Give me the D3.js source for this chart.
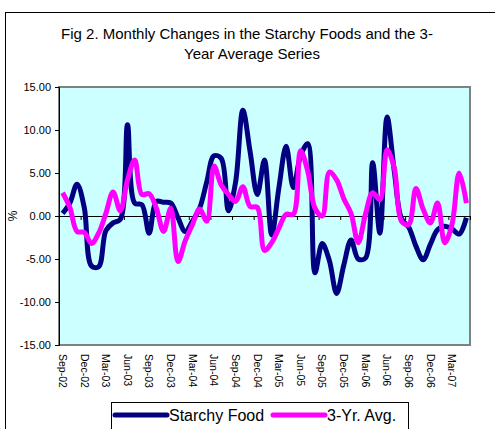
<!DOCTYPE html>
<html>
<head>
<meta charset="utf-8">
<script src="https://cdn.jsdelivr.net/npm/d3@7"></script>
<style>
  body { margin: 0; background: #fff; }
  text { font-family: Arial, "Liberation Sans", sans-serif; }
</style>
</head>
<body>
<script>
// monthly categories Sep-02 .. May-07
var months = ["Sep-02","Oct-02","Nov-02","Dec-02",
  "Jan-03","Feb-03","Mar-03","Apr-03","May-03","Jun-03","Jul-03","Aug-03","Sep-03","Oct-03","Nov-03","Dec-03",
  "Jan-04","Feb-04","Mar-04","Apr-04","May-04","Jun-04","Jul-04","Aug-04","Sep-04","Oct-04","Nov-04","Dec-04",
  "Jan-05","Feb-05","Mar-05","Apr-05","May-05","Jun-05","Jul-05","Aug-05","Sep-05","Oct-05","Nov-05","Dec-05",
  "Jan-06","Feb-06","Mar-06","Apr-06","May-06","Jun-06","Jul-06","Aug-06","Sep-06","Oct-06","Nov-06","Dec-06",
  "Jan-07","Feb-07","Mar-07","Apr-07","May-07"];

var starchy = [0.3, 1.5, 3.7, 1.0,
  -5.8, -5.9, -1.7, -0.8, -0.4, 10.6, 1.5, 1.3, -2.0, 1.7, 1.6, 1.5,
  -0.2, -1.8, -0.6, 0.9, 4.0, 7.0, 6.7, 0.6, 4.0, 12.3, 7.5, 2.5,
  6.5, -2.2, 3.3, 8.1, 3.3, 7.0, 8.4, -6.6, -3.2, -5.2, -9.0, -5.7,
  -2.8, -5.0, -4.9, 6.2, -2.0, 11.5, 5.2, -0.3, -1.3, -3.5, -5.1, -3.3,
  -1.6, -1.2, -1.5, -2.1, -0.2];

var avg3yr = [2.7, 1.0, -1.8, -1.9,
  -3.2, -2.0, 0.3, 2.8, 0.6, 4.2, 6.5, 2.5, 2.6, 0.9, -1.8, 0.9,
  -5.3, -2.9, -1.0, 0.8, -0.6, 5.8, 3.6, 2.5, 1.7, 3.4, 1.1, 1.0,
  -4.0, -3.1, -1.4, 0.2, 0.2, 7.6, 5.2, 0.9, 0.0, 5.1, 4.2, 2.0,
  0.3, -3.1, 0.2, 2.7, 1.9, 7.7, 5.6, -0.6, -1.0, 3.2, 0.8, -0.8,
  1.5, -3.1, -1.0, 5.0, 1.5];

var yTicks = [-15, -10, -5, 0, 5, 10, 15];

var W = 495, H = 429;
var plotL = 59, plotR = 470, plotT = 87, plotB = 345;

var svg = d3.select("body").append("svg")
    .attr("width", W)
    .attr("height", H);

// outer chart border
svg.append("rect")
    .attr("x", 5.5).attr("y", 12.5)
    .attr("width", 600).attr("height", 500)
    .attr("fill", "#fff")
    .attr("stroke", "#000");

// title
svg.append("text")
    .attr("x", 247).attr("y", 38.5)
    .attr("text-anchor", "middle")
    .style("font-size", "15px")
    .text("Fig 2. Monthly Changes in the Starchy Foods and the 3-");
svg.append("text")
    .attr("x", 252).attr("y", 58.5)
    .attr("text-anchor", "middle")
    .style("font-size", "15px")
    .text("Year Average Series");

var x = d3.scaleBand().domain(months).range([plotL, plotR]);
var y = d3.scaleLinear().domain([-15, 15]).range([plotB, plotT]);

// plot area
svg.append("rect")
    .attr("x", plotL).attr("y", plotT)
    .attr("width", plotR - plotL).attr("height", plotB - plotT)
    .attr("fill", "#ccffff")
    .attr("stroke", "#808080")
    .attr("stroke-width", 2);

// y axis
var yAxis = svg.append("g")
    .attr("transform", "translate(" + plotL + ",0)")
    .call(d3.axisLeft(y).tickValues(yTicks).tickSize(4).tickPadding(4)
      .tickFormat(function(d) { return d3.format(".2f")(d).replace("−", "-"); }));
yAxis.select(".domain").attr("stroke", "#000");
yAxis.selectAll("text").style("font-size", "11px").attr("fill", "#000")
    .style("font-family", "Arial, 'Liberation Sans', sans-serif");

svg.append("text")
    .attr("transform", "translate(17," + y(0) + ") rotate(-90)")
    .attr("text-anchor", "middle")
    .style("font-size", "12px")
    .text("%");

// x axis along zero
svg.append("line")
    .attr("x1", plotL).attr("x2", plotR)
    .attr("y1", y(0) + 0.5).attr("y2", y(0) + 0.5)
    .attr("stroke", "#000");

var tickIdx = d3.range(0, months.length + 1, 3);
svg.selectAll(".xtick")
    .data(tickIdx)
  .enter().append("line")
    .attr("class", "xtick")
    .attr("x1", function(i) { return plotL + i * x.step() + 0.5; })
    .attr("x2", function(i) { return plotL + i * x.step() + 0.5; })
    .attr("y1", y(0)).attr("y2", y(0) + 4)
    .attr("stroke", "#000");

svg.selectAll(".xlab")
    .data(months.filter(function(d, i) { return i % 3 == 0; }))
  .enter().append("text")
    .attr("class", "xlab")
    .attr("transform", function(d) {
      return "translate(" + (x(d) + x.bandwidth() / 2) + "," + (plotB + 9) + ") rotate(90)";
    })
    .attr("dy", "0.35em")
    .style("font-size", "10.5px")
    .text(function(d) { return d; });

// lines
var line1 = d3.line()
    .x(function(d, i) { return x(months[i]) + x.bandwidth() / 2; })
    .y(function(d) { return y(d); })
    .curve(d3.curveCatmullRom.alpha(0.5));

svg.append("path")
    .datum(starchy)
    .attr("fill", "none")
    .attr("stroke", "#000080")
    .attr("stroke-width", 5)
    .attr("d", line1);

svg.append("path")
    .datum(avg3yr)
    .attr("fill", "none")
    .attr("stroke", "#ff00ff")
    .attr("stroke-width", 5)
    .attr("d", line1);

// legend
svg.append("rect")
    .attr("x", 111.5).attr("y", 402.5)
    .attr("width", 297).attr("height", 40)
    .attr("fill", "#fff")
    .attr("stroke", "#000");

var legend = [
  { name: "Starchy Food", color: "#000080", x: 115 },
  { name: "3-Yr. Avg.", color: "#ff00ff", x: 273 }
];
legend.forEach(function(l) {
  svg.append("line")
      .attr("x1", l.x).attr("x2", l.x + 52)
      .attr("y1", 415).attr("y2", 415)
      .attr("stroke", l.color)
      .attr("stroke-width", 5)
      .attr("stroke-linecap", "round");
  svg.append("text")
      .attr("x", l.x + 54).attr("y", 421)
      .style("font-size", "16px")
      .text(l.name);
});
</script>
</body>
</html>
